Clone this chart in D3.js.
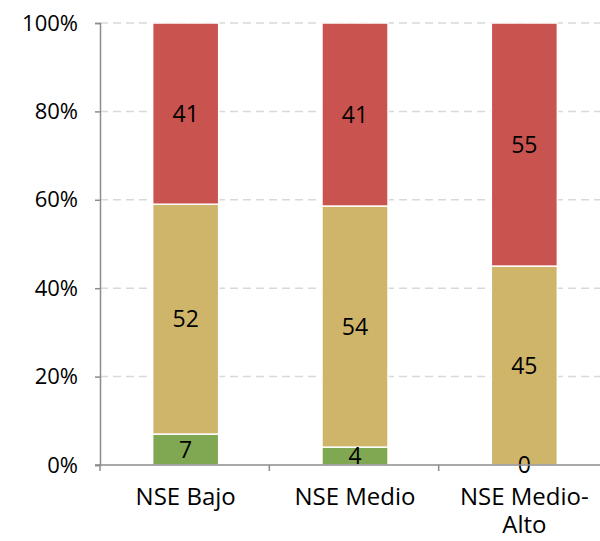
<!DOCTYPE html>
<html>
<head>
<meta charset="utf-8">
<script src="https://cdn.jsdelivr.net/npm/d3@7"></script>
<style>
  body { margin: 0; background: #fff; }
  svg { display: block; font-family: "Open Sans", "Noto Sans", sans-serif; }
</style>
</head>
<body>
<div id="chart"></div>
<script>
const categories = [["NSE Bajo"], ["NSE Medio"], ["NSE Medio-", "Alto"]]
const seriesNames = ["verde", "amarillo", "rojo"]
const verde = [7, 4, 0]
const amarillo = [52, 54, 45]
const rojo = [41, 41, 55]
const yTicks = [0, 0.2, 0.4, 0.6, 0.8, 1]
const colors = ["#80a853", "#cfb56a", "#c9534f"]

const width = 600
const height = 541
const margin = { top: 23, right: -8, bottom: 76, left: 100 }

const rows = categories.map((c, i) => ({ key: i, verde: verde[i], amarillo: amarillo[i], rojo: rojo[i] }))
const stacked = d3.stack().keys(seriesNames).offset(d3.stackOffsetExpand)(rows)

const svg = d3.select("#chart").append("svg")
  .attr("width", width)
  .attr("height", height)

const x = d3.scaleBand()
  .domain(rows.map(d => d.key))
  .range([margin.left, width - margin.right])
  .paddingInner(0.61)
  .paddingOuter(0.305)

const y = d3.scaleLinear()
  .domain([0, 1])
  .range([height - margin.bottom, margin.top])

// Gridlines
svg.append("g")
  .selectAll("line")
  .data(yTicks.filter(t => t > 0))
  .join("line")
  .attr("x1", margin.left)
  .attr("x2", width)
  .attr("y1", d => y(d))
  .attr("y2", d => y(d))
  .attr("stroke", "#d9d9d9")
  .attr("stroke-width", 1.5)
  .attr("stroke-dasharray", "8,5")

// Bars
const layer = svg.append("g")
  .selectAll("g")
  .data(stacked)
  .join("g")
  .attr("fill", (d, i) => colors[i])

layer.selectAll("rect")
  .data(d => d)
  .join("rect")
  .attr("x", d => x(d.data.key) + 1)
  .attr("width", x.bandwidth())
  .attr("y", d => y(d[1]))
  .attr("height", d => y(d[0]) - y(d[1]))
  .attr("stroke", "#fff")
  .attr("stroke-width", 1.5)

// Labels
stacked.forEach((s, si) => {
  svg.append("g")
    .selectAll("text")
    .data(s)
    .join("text")
    .attr("x", d => x(d.data.key) + 1 + x.bandwidth() / 2)
    .attr("y", d => (y(d[0]) + y(d[1])) / 2)
    .attr("dy", "0.36em")
    .attr("text-anchor", "middle")
    .attr("font-size", "23px")
    .attr("fill", "#000")
    .text(d => d.data[s.key])
})

// Y axis
const yAxis = svg.append("g")
  .attr("transform", `translate(${margin.left},0)`)
  .call(d3.axisLeft(y).tickValues(yTicks).tickFormat(d3.format(".0%")).tickSize(5).tickPadding(17))
yAxis.select(".domain").attr("stroke", "#8c8c8c").attr("stroke-width", 1.5)
yAxis.selectAll(".tick line").attr("stroke", "#8c8c8c").attr("stroke-width", 1.5)
yAxis.selectAll("text").attr("font-size", "22px").attr("fill", "#000").attr("font-family", "Open Sans, Noto Sans, sans-serif")

// X axis
const xAxisG = svg.append("g")
  .attr("transform", `translate(0,${y(0)})`)
xAxisG.append("line")
  .attr("x1", margin.left - 5)
  .attr("x2", width)
  .attr("stroke", "#8c8c8c")
  .attr("stroke-width", 1.5)
const step = x.step()
xAxisG.selectAll("line.tk")
  .data(rows)
  .join("line")
  .attr("class", "tk")
  .attr("x1", d => x(d.key) - x.paddingOuter() * step)
  .attr("x2", d => x(d.key) - x.paddingOuter() * step)
  .attr("y1", 0)
  .attr("y2", 6)
  .attr("stroke", "#8c8c8c")
  .attr("stroke-width", 1.5)

xAxisG.selectAll("text")
  .data(rows)
  .join("text")
  .attr("text-anchor", "middle")
  .attr("font-size", "24px")
  .attr("fill", "#000")
  .each(function (d, i) {
    const t = d3.select(this)
    categories[i].forEach((line, li) => {
      t.append("tspan")
        .attr("x", x(d.key) + 1 + x.bandwidth() / 2)
        .attr("y", 40 + li * 28)
        .text(line)
    })
  })
</script>
</body>
</html>
